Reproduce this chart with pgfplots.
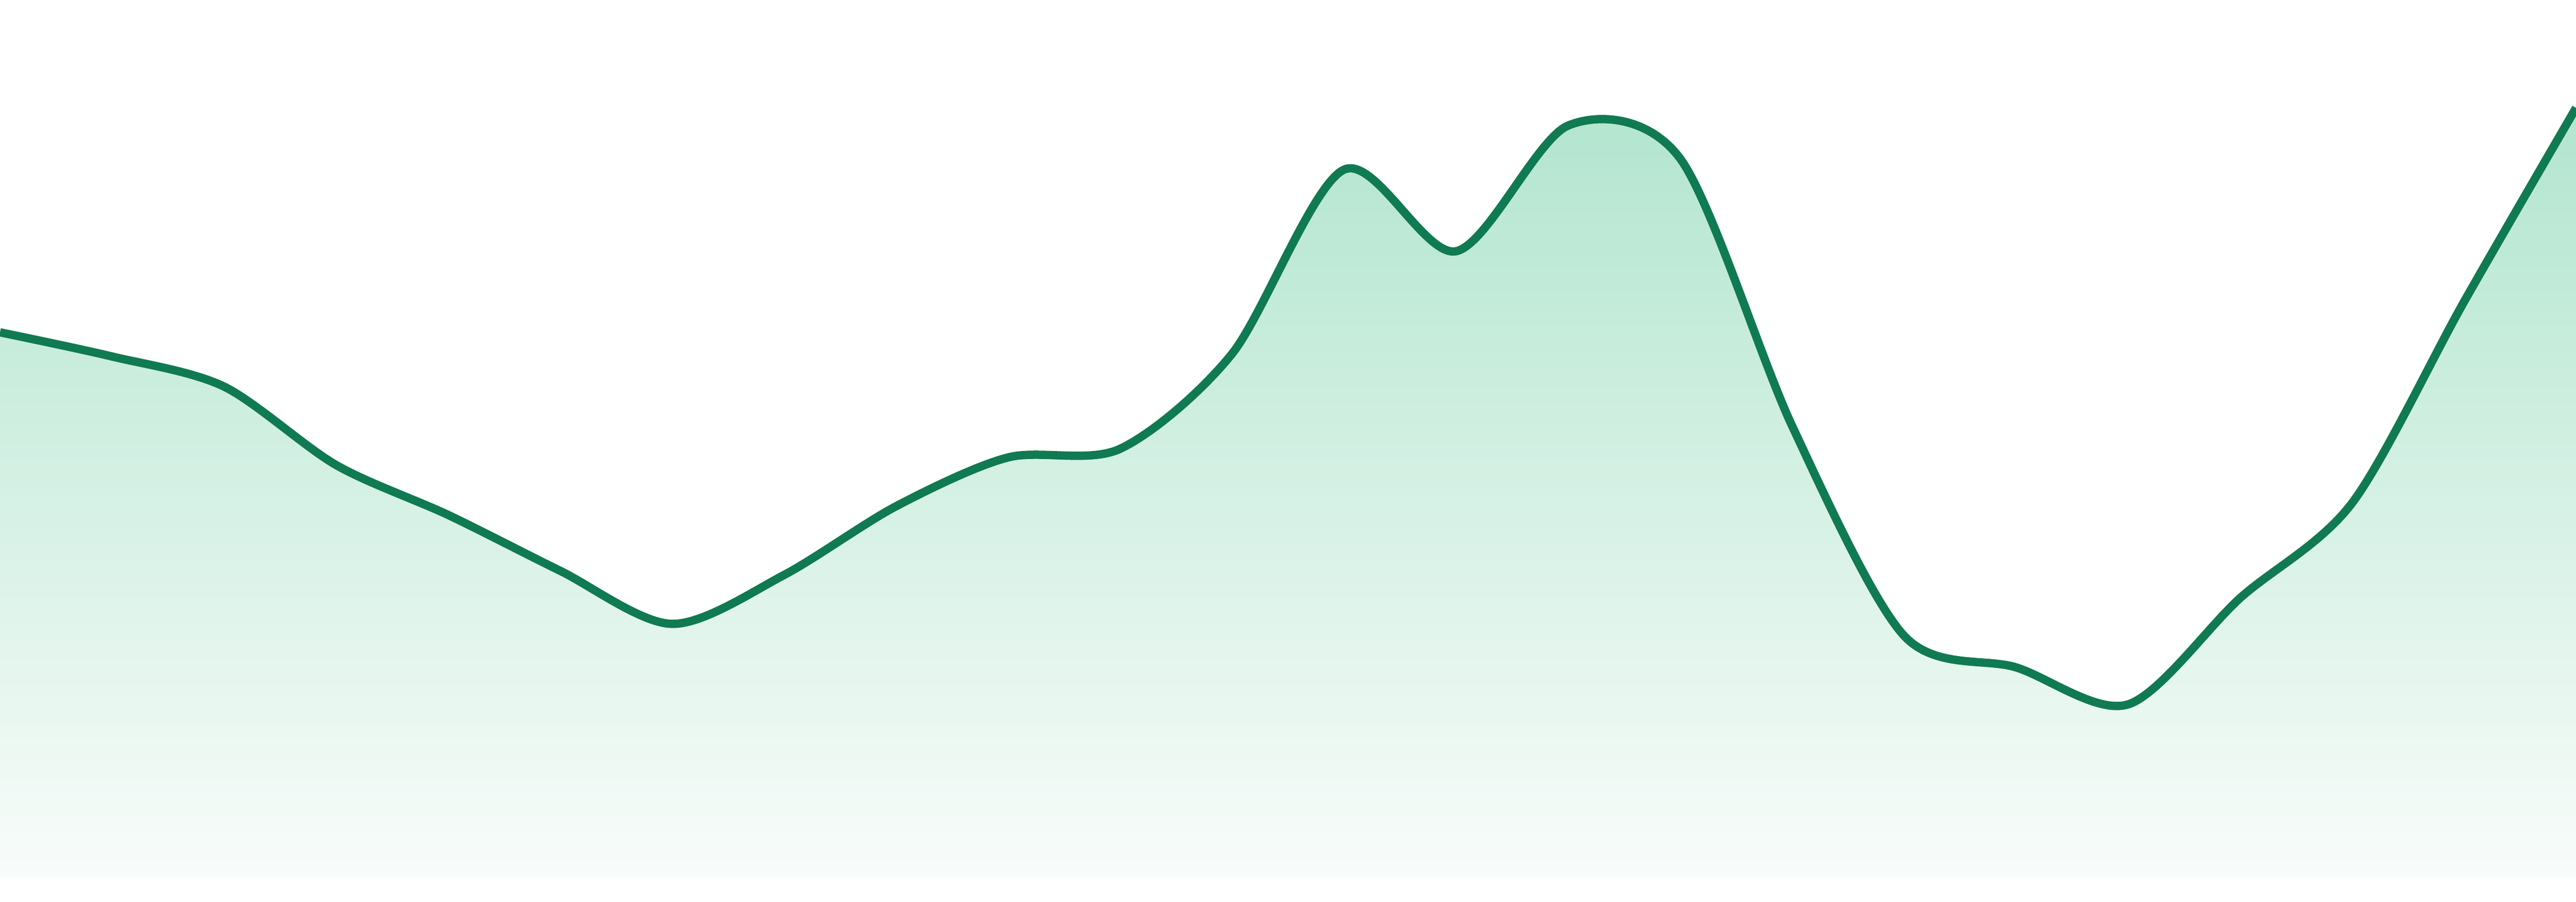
\documentclass[border=0pt]{standalone}
\usepackage{pgfplots}
\pgfplotsset{compat=1.18}

\definecolor{linegreen}{RGB}{16,122,82}
\definecolor{filltop}{RGB}{178,229,207}
\definecolor{fillbot}{RGB}{248,252,250}

\begin{document}
\begin{tikzpicture}
  \begin{axis}[
      width=480pt,
      height=168pt,
      scale only axis,
      axis line style={draw=none},
      xtick=\empty, ytick=\empty,
      xmin=0, xmax=23,
      ymin=-47, ymax=1633,
    ]
    % area under the curve, shaded from the top of the path down to the axis
    \addplot[draw=none, smooth, top color=filltop, bottom color=fillbot]
      coordinates {
        (0,1014) (1,969) (2,913) (3,767) (4,674) (5,570) (6,471) (7,562)
        (8,690) (9,781) (10,797) (11,974) (12,1317) (13,1165) (14,1399) (15,1338)
        (16,840) (17,449) (18,390) (19,321) (20,519) (21,696) (22,1071) (23,1432)
      } \closedcycle;
    \addplot[linegreen, line width=1.55pt, smooth, mark=none]
      coordinates {
        (0,1014) (1,969) (2,913) (3,767) (4,674) (5,570) (6,471) (7,562)
        (8,690) (9,781) (10,797) (11,974) (12,1317) (13,1165) (14,1399) (15,1338)
        (16,840) (17,449) (18,390) (19,321) (20,519) (21,696) (22,1071) (23,1432)
      };
  \end{axis}
\end{tikzpicture}
\end{document}
